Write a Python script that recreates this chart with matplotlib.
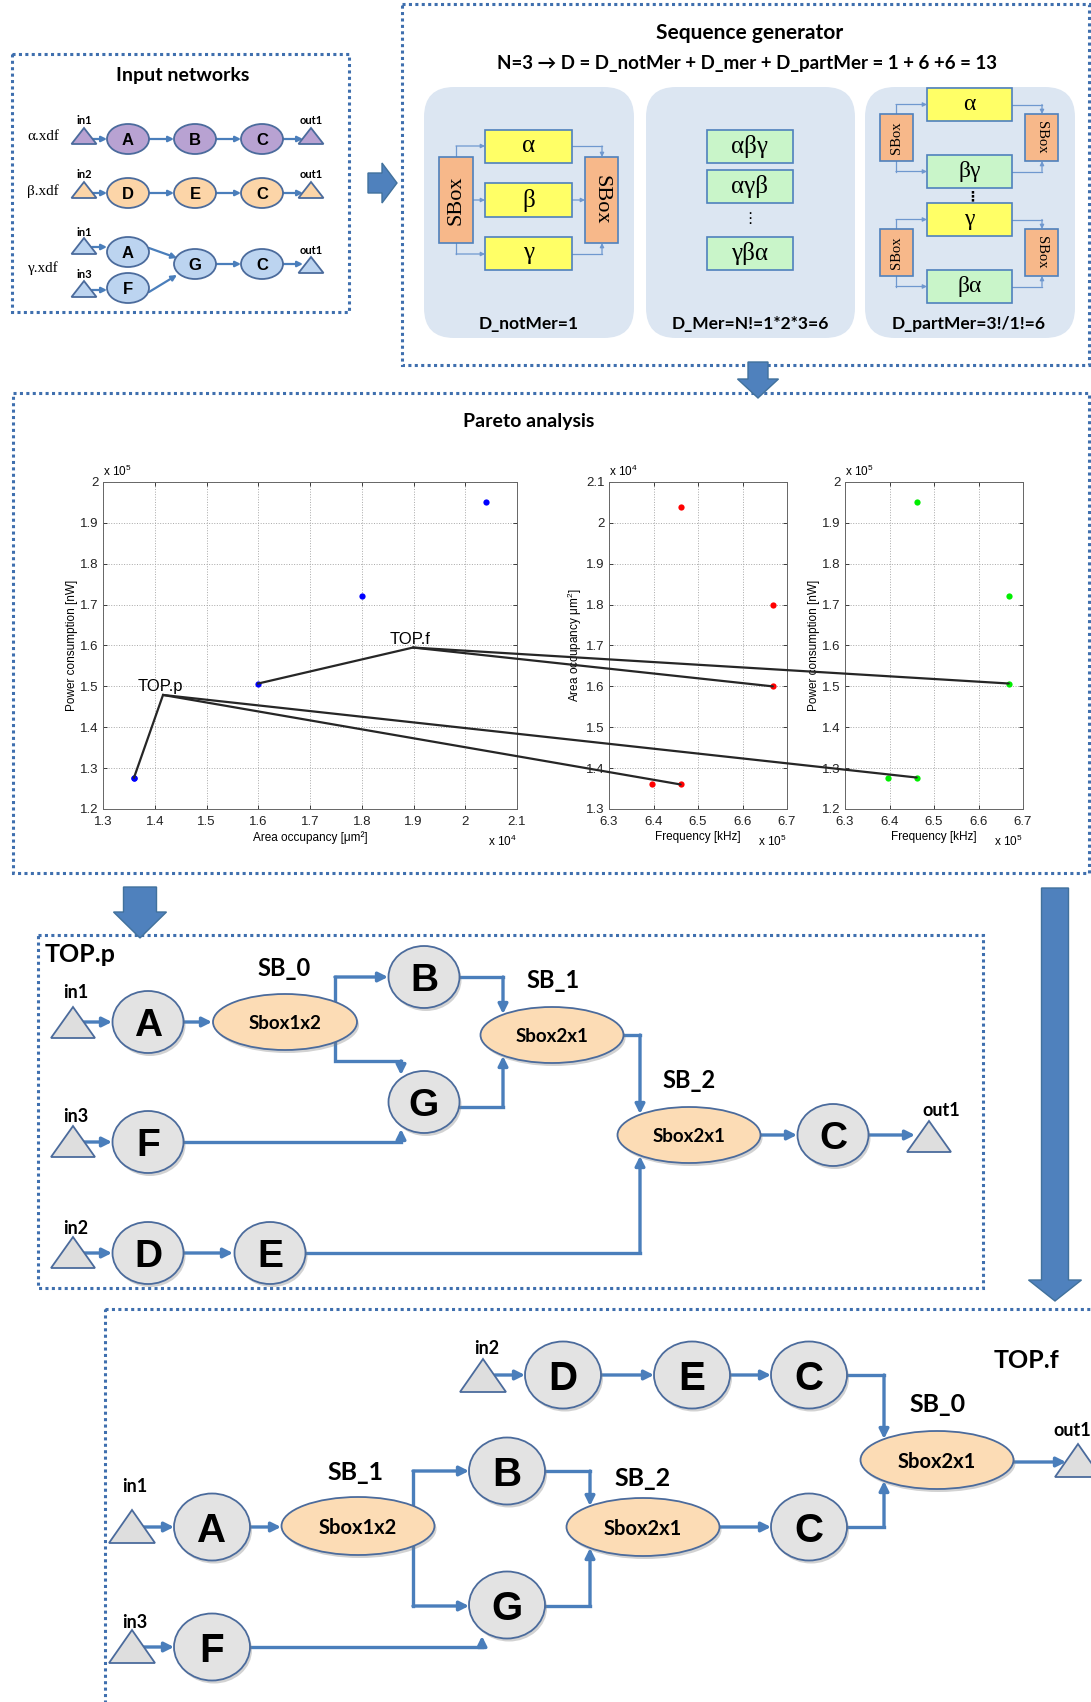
import matplotlib.pyplot as plt
import matplotlib.patches as mpatches
from matplotlib.patches import ConnectionPatch
from matplotlib.ticker import FuncFormatter, MultipleLocator

plt.rcParams['font.family'] = ['Lato', 'DejaVu Sans']
plt.rcParams['mathtext.fontset'] = 'custom'
plt.rcParams['mathtext.rm'] = 'Liberation Sans'

# design points returned by the sequence generator
freq_khz = [6.396e5, 6.461e5, 6.461e5, 6.668e5, 6.668e5]
area_um2 = [1.36e4, 1.36e4, 2.04e4, 1.80e4, 1.60e4]
power_nw = [1.277e5, 1.277e5, 1.951e5, 1.722e5, 1.507e5]

# selected designs and where their labels sit on the area/power plot
top_names = ["TOP.p", "TOP.f"]
top_index = [1, 4]
top_tag_area = [1.416e4, 1.899e4]
top_tag_power = [1.479e5, 1.595e5]

W, H = 1091, 1702
fig = plt.figure(figsize=(W / 100, H / 100), dpi=100)
ax = fig.add_axes([0, 0, 1, 1])
ax.set_xlim(0, W)
ax.set_ylim(H, 0)
ax.axis('off')

WIRE = '#4a7ebb'
EDGE = '#4b6b9c'
SANS = ['Liberation Sans', 'DejaVu Sans']
SERIF = ['Liberation Serif', 'DejaVu Serif']


def px_rect(x0, y0, x1, y1):
    return [x0 / W, 1 - y1 / H, (x1 - x0) / W, (y1 - y0) / H]


def dotted_box(x0, y0, x1, y1):
    ax.add_patch(mpatches.Rectangle((x0, y0), x1 - x0, y1 - y0, fill=False,
                                    ec='#3f6fae', lw=2.2, ls=(0, (1, 1.1)), zorder=1))


def say(x, y, s, size, weight='bold', family=None, **kw):
    kw.setdefault('ha', 'center')
    kw.setdefault('va', 'center')
    ax.text(x, y, s, fontsize=size, fontweight=weight,
            family=family or ['Lato', 'DejaVu Sans'], zorder=6, **kw)


def node(x, y, w, h, label, fc, fs, shadow=True, lw=1.3, font=SANS):
    if shadow:
        ax.add_patch(mpatches.Ellipse((x + 2, y + 3), w, h, fc='#7f7f7f',
                                      ec='none', alpha=0.35, zorder=3))
    ax.add_patch(mpatches.Ellipse((x, y), w, h, fc=fc, ec=EDGE, lw=lw, zorder=4))
    ax.text(x, y, label, ha='center', va='center_baseline', fontsize=fs,
            fontweight='bold', family=font, zorder=6)


def port(x, base, w, h, fc, lw=1.3):
    ax.add_patch(mpatches.Polygon([(x - w / 2, base), (x + w / 2, base), (x, base - h)],
                                  closed=True, fc=fc, ec=EDGE, lw=lw, zorder=4))


def wire(pts, lw=2.4, ms=14, color=WIRE, z=2):
    xs = [p[0] for p in pts]
    ys = [p[1] for p in pts]
    if len(pts) > 2:
        ax.plot(xs[:-1], ys[:-1], color=color, lw=lw, solid_joinstyle='miter',
                solid_capstyle='projecting', zorder=z)
    ax.annotate('', xy=pts[-1], xytext=pts[-2], zorder=z,
                arrowprops=dict(arrowstyle='-|>', color=color, lw=lw,
                                shrinkA=0, shrinkB=0, mutation_scale=ms))


def block_arrow(x0, y0, x1, y1, shaft, head, head_len):
    ax.add_patch(mpatches.FancyArrow(x0, y0, x1 - x0, y1 - y0, width=shaft,
                                     head_width=head, head_length=head_len,
                                     length_includes_head=True, fc='#4f81bd',
                                     ec='#41719c', lw=1, zorder=5))


def box(x0, y0, x1, y1, fc, text=None, fs=18, rot=0, lw=1.2):
    ax.add_patch(mpatches.Rectangle((x0, y0), x1 - x0, y1 - y0, fc=fc,
                                    ec='#4f81bd', lw=lw, zorder=3))
    if text:
        ax.text((x0 + x1) / 2, (y0 + y1) / 2, text, ha='center', va='center',
                rotation=rot, fontsize=fs, family=SERIF, zorder=6)


def thin(pts):
    wire(pts, lw=0.9, ms=6, color='#6f98cf')


# ---------------- Input networks ----------------
dotted_box(12, 54, 349, 312)
say(183, 75, "Input networks", 14)

purple, peach, sky = '#b8a2d2', '#fcd5a8', '#bcd4f0'
cw, ch = 42, 30
for y, tag, fill, names, ins in [(139, "α.xdf", purple, "ABC", "in1"),
                                 (193, "β.xdf", peach, "DEC", "in2")]:
    say(43, y - 2, tag, 11, weight='normal', family=SERIF)
    port(84, y + 5, 25, 16, fill)
    port(311, y + 5, 25, 16, fill)
    say(84, y - 19, ins, 8)
    say(311, y - 19, "out1", 8)
    for cx, name in zip([128, 195, 262], names):
        node(cx, y, cw, ch, name, fill, 12, shadow=False)
    for a, b in [(92, 107), (149, 174), (216, 241), (283, 303)]:
        wire([(a, y), (b, y)], lw=1.6, ms=8)

say(43, 268, "γ.xdf", 11, weight='normal', family=SERIF)
port(84, 254, 25, 16, sky)
port(84, 297, 25, 16, sky)
port(311, 273, 25, 16, sky)
say(84, 232, "in1", 8)
say(84, 274, "in3", 8)
say(311, 251, "out1", 8)
node(128, 252, cw, ch, "A", sky, 12, shadow=False)
node(128, 288, cw, ch, "F", sky, 12, shadow=False)
node(195, 264, cw, ch, "G", sky, 12, shadow=False)
node(262, 264, cw, ch, "C", sky, 12, shadow=False)
wire([(92, 247), (107, 247)], lw=1.6, ms=8)
wire([(92, 290), (107, 290)], lw=1.6, ms=8)
wire([(149, 248), (177, 258)], lw=1.6, ms=8)
wire([(149, 292), (177, 275)], lw=1.6, ms=8)
wire([(216, 264), (241, 264)], lw=1.6, ms=8)
wire([(283, 264), (303, 264)], lw=1.6, ms=8)

block_arrow(368, 183, 397, 183, 20, 40, 15)

# ---------------- Sequence generator ----------------
dotted_box(402, 4, 1089, 365)
say(750, 33, "Sequence generator", 15)
say(747, 63, "N=3 → D = D_notMer + D_mer + D_partMer = 1 + 6 +6 = 13", 13.5)

for x0, x1 in [(424, 634), (646, 855), (865, 1075)]:
    ax.add_patch(mpatches.FancyBboxPatch((x0, 87), x1 - x0, 251,
                                         boxstyle='round,pad=0,rounding_size=30',
                                         fc='#dce6f2', ec='none', zorder=1))

yellow, mint, sbox = '#ffff66', '#c9f5c9', '#f7b88a'
VDOTS = ['DejaVu Sans', 'DejaVu Serif']

# panel 1: no merging
box(439, 157, 473, 243, sbox, "SBox", 16, rot=90)
box(585, 157, 618, 243, sbox, "SBox", 16, rot=270)
box(485, 130, 572, 163, yellow, "α")
box(485, 183, 572, 217, yellow, "β")
box(485, 237, 572, 270, yellow, "γ")
thin([(456, 157), (456, 146), (485, 146)])
thin([(473, 200), (485, 200)])
thin([(456, 243), (456, 254), (485, 254)])
thin([(572, 146), (602, 146), (602, 157)])
thin([(572, 200), (585, 200)])
thin([(572, 254), (602, 254), (602, 243)])
say(529, 324, "D_notMer=1", 12.5)

# panel 2: full merging
box(707, 130, 793, 163, mint, "αβγ")
box(707, 170, 793, 203, mint, "αγβ")
say(750, 218, "⋮", 11, weight='normal', family=VDOTS)
box(707, 237, 793, 270, mint, "γβα")
say(750, 324, "D_Mer=N!=1*2*3=6", 12.5)

# panel 3: partial merging
for top, first, second in [(88, "α", "βγ"), (203, "γ", "βα")]:
    upper = (top, top + 33)
    lower = (top + 67, top + 100)
    box(927, upper[0], 1012, upper[1], yellow, first, 17)
    box(927, lower[0], 1012, lower[1], mint, second, 17)
    my, ly = (upper[0] + upper[1]) / 2, (lower[0] + lower[1]) / 2
    sy0, sy1 = top + 26, top + 73
    box(880, sy0, 913, sy1, sbox, "SBox", 10.5, rot=90)
    box(1025, sy0, 1058, sy1, sbox, "SBox", 10.5, rot=270)
    thin([(896, sy0), (896, my), (927, my)])
    thin([(896, sy1), (896, ly), (927, ly)])
    thin([(1012, my), (1042, my), (1042, sy0)])
    thin([(1012, ly), (1042, ly), (1042, sy1)])
say(972, 196, "⋮", 10, weight='bold', family=VDOTS)
say(969, 324, "D_partMer=3!/1!=6", 12.5)

block_arrow(758, 362, 758, 398, 20, 41, 19)

# ---------------- Pareto analysis ----------------
dotted_box(13, 393, 1089, 873)
say(529, 422, "Pareto analysis", 14)


def sci_axes(rect, xlim, ylim, xstep, ystep, xscale, yscale, xexp, yexp, xlabel, ylabel):
    a = fig.add_axes(rect)
    a.set_xlim(*xlim)
    a.set_ylim(*ylim)
    a.xaxis.set_major_locator(MultipleLocator(xstep))
    a.yaxis.set_major_locator(MultipleLocator(ystep))
    a.xaxis.set_major_formatter(FuncFormatter(lambda v, p: f"{v / xscale:.3g}"))
    a.yaxis.set_major_formatter(FuncFormatter(lambda v, p: f"{v / yscale:.3g}"))
    a.tick_params(direction='in', length=3, width=0.6, top=True, right=True,
                  labelsize=9.5, colors='#222222')
    a.tick_params(axis='x', pad=5)
    a.tick_params(axis='y', pad=3)
    for lab in a.get_xticklabels() + a.get_yticklabels():
        lab.set_family(SANS)
    for s in a.spines.values():
        s.set_color('#666666')
        s.set_linewidth(0.7)
    a.grid(True, ls=':', color='#a8a8a8', lw=0.7)
    a.set_xlabel(xlabel, fontsize=8.5, family=SANS, labelpad=2)
    a.set_ylabel(ylabel, fontsize=8.5, family=SANS, labelpad=2)
    a.text(0.0, 1.008, f"x 10$^{{{yexp}}}$", transform=a.transAxes, fontsize=8.5,
           family=SANS, ha='left', va='bottom')
    a.text(1.0, -0.075, f"x 10$^{{{xexp}}}$", transform=a.transAxes, fontsize=8.5,
           family=SANS, ha='right', va='top')
    return a


ax1 = sci_axes(px_rect(103, 482, 517, 809), (1.3e4, 2.1e4), (1.2e5, 2.0e5),
               1000, 10000, 1e4, 1e5, 4, 5,
               "Area occupancy [μm²]", "Power consumption [nW]")
ax2 = sci_axes(px_rect(609, 482, 787, 809), (6.3e5, 6.7e5), (1.3e4, 2.1e4),
               10000, 1000, 1e5, 1e4, 5, 4,
               "Frequency [kHz]", "Area occupancy μm$^2$]")
ax3 = sci_axes(px_rect(845, 482, 1023, 809), (6.3e5, 6.7e5), (1.2e5, 2.0e5),
               10000, 10000, 1e5, 1e5, 5, 5,
               "Frequency [kHz]", "Power consumption [nW]")

ax1.plot(area_um2, power_nw, 'o', color='#0000ff', ms=4.5, mew=0, zorder=5)
ax2.plot(freq_khz, area_um2, 'o', color='#ff0000', ms=4.5, mew=0, zorder=5)
ax3.plot(freq_khz, power_nw, 'o', color='#00ee00', ms=4.5, mew=0, zorder=5)

for name, i, ta, tp in zip(top_names, top_index, top_tag_area, top_tag_power):
    ax1.text(ta - 50, tp + 900, name, fontsize=12, family=SANS, ha='center',
             va='baseline', zorder=7)
    ax1.plot([ta, area_um2[i]], [tp, power_nw[i]], color='#262626', lw=1.6,
             clip_on=False, zorder=6)
    for target, xy in [(ax2, (freq_khz[i], area_um2[i])), (ax3, (freq_khz[i], power_nw[i]))]:
        fig.add_artist(ConnectionPatch(xyA=(ta, tp), coordsA=ax1.transData,
                                       xyB=xy, coordsB=target.transData,
                                       color='#262626', lw=1.6, zorder=10))

block_arrow(140, 887, 140, 938, 33, 53, 26)
block_arrow(1055, 888, 1055, 1301, 27, 53, 21)

# ---------------- TOP.p ----------------
dotted_box(38, 935, 983, 1288)
say(80, 954, "TOP.p", 18)

grey, orange = '#e3e3e3', '#fcdcb5'
pw, ph = 71, 62
for x, base, lab, ly in [(73, 1038, "in1", 993), (73, 1157, "in3", 1117), (73, 1268, "in2", 1228)]:
    port(x, base, 44, 31, '#dedede')
    say(x + 3, ly, lab, 13)
port(929, 1152, 44, 31, '#dedede')
say(941, 1110, "out1", 13)

node(148, 1022, pw, ph, "A", grey, 28)
node(148, 1142, pw, ph, "F", grey, 28)
node(148, 1253, pw, ph, "D", grey, 28)
node(270, 1253, pw, ph, "E", grey, 28)
node(424, 977, pw, ph, "B", grey, 28)
node(424, 1102, pw, ph, "G", grey, 28)
node(833, 1135, pw, ph, "C", grey, 28)
node(285, 1022, 144, 56, "Sbox1x2", orange, 13.5, font=['Lato', 'DejaVu Sans'])
node(552, 1035, 143, 56, "Sbox2x1", orange, 13.5, font=['Lato', 'DejaVu Sans'])
node(689, 1135, 143, 56, "Sbox2x1", orange, 13.5, font=['Lato', 'DejaVu Sans'])
say(284, 968, "SB_0", 17)
say(553, 981, "SB_1", 17)
say(689, 1081, "SB_2", 17)

wire([(84, 1022), (112, 1022)])
wire([(84, 1142), (112, 1142)])
wire([(84, 1253), (112, 1253)])
wire([(184, 1022), (212, 1022)])
wire([(184, 1253), (233, 1253)])
wire([(335, 1002), (335, 977), (388, 977)])
wire([(335, 1042), (335, 1061), (401, 1061), (401, 1075)])
wire([(184, 1142), (401, 1142), (401, 1129)])
wire([(460, 977), (503, 977), (503, 1014)])
wire([(460, 1107), (503, 1107), (503, 1056)])
wire([(624, 1035), (640, 1035), (640, 1114)])
wire([(306, 1253), (640, 1253), (640, 1156)])
wire([(761, 1135), (797, 1135)])
wire([(869, 1135), (915, 1135)])

# ---------------- TOP.f ----------------
dotted_box(105, 1309, 1100, 1712)
say(1027, 1360, "TOP.f", 18)

fw, fh = 76, 67
port(483, 1392, 46, 33, '#dedede')
say(487, 1348, "in2", 13)
port(132, 1543, 46, 33, '#dedede')
say(135, 1487, "in1", 13)
port(132, 1663, 46, 33, '#dedede')
say(135, 1622, "in3", 13)
port(1078, 1477, 46, 33, '#dedede')
say(1053, 1430, "out1", 13, ha='left')

node(563, 1375, fw, fh, "D", grey, 29)
node(692, 1375, fw, fh, "E", grey, 29)
node(809, 1375, fw, fh, "C", grey, 29)
node(212, 1527, fw, fh, "A", grey, 29)
node(212, 1647, fw, fh, "F", grey, 29)
node(507, 1471, fw, fh, "B", grey, 29)
node(507, 1605, fw, fh, "G", grey, 29)
node(809, 1527, fw, fh, "C", grey, 29)
node(937, 1460, 153, 58, "Sbox2x1", orange, 14.5, font=['Lato', 'DejaVu Sans'])
node(358, 1526, 153, 58, "Sbox1x2", orange, 14.5, font=['Lato', 'DejaVu Sans'])
node(643, 1527, 153, 58, "Sbox2x1", orange, 14.5, font=['Lato', 'DejaVu Sans'])
say(938, 1404, "SB_0", 18)
say(356, 1472, "SB_1", 18)
say(643, 1478, "SB_2", 18)

wire([(495, 1375), (525, 1375)])
wire([(601, 1375), (654, 1375)])
wire([(730, 1375), (771, 1375)])
wire([(847, 1375), (884, 1375), (884, 1439)])
wire([(1014, 1462), (1066, 1462)])
wire([(144, 1527), (174, 1527)])
wire([(250, 1527), (281, 1527)])
wire([(413, 1506), (413, 1471), (469, 1471)])
wire([(413, 1546), (413, 1606), (469, 1606)])
wire([(144, 1647), (174, 1647)])
wire([(250, 1647), (482, 1647), (482, 1636)])
wire([(545, 1471), (590, 1471), (590, 1506)])
wire([(545, 1606), (590, 1606), (590, 1548)])
wire([(719, 1527), (771, 1527)])
wire([(847, 1527), (884, 1527), (884, 1481)])

fig.savefig("out.png", dpi=100)
